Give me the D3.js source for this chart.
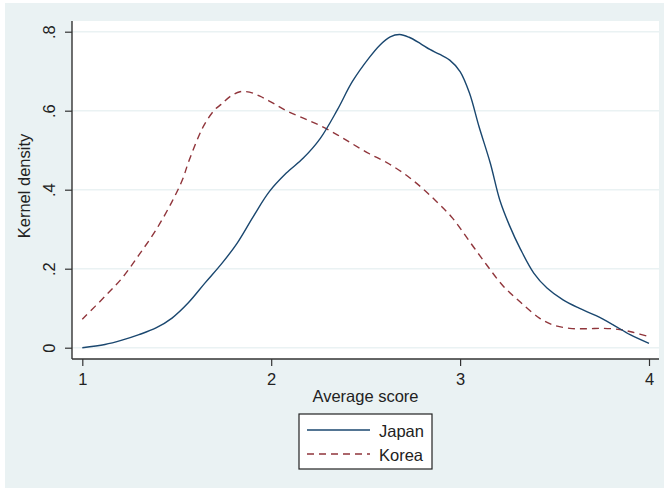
<!DOCTYPE html>
<html><head><meta charset="utf-8">
<script src="https://cdn.jsdelivr.net/npm/d3@7"></script>
<style>body{margin:0;background:#fff}svg{display:block}text{font-family:"Liberation Sans",Arial,sans-serif;fill:#222}</style>
</head><body><svg id="c" width="669" height="491"></svg>
<script>
const japanX = [1.0,1.12,1.21,1.30,1.39,1.475,1.56,1.65,1.74,1.82,1.905,1.99,2.08,2.17,2.26,2.35,2.43,2.52,2.575,2.63,2.68,2.73,2.79,2.84,2.89,2.945,3.0,3.05,3.10,3.16,3.21,3.26,3.32,3.39,3.46,3.545,3.63,3.72,3.81,3.90,4.0];
const japanY = [0.000,0.008,0.019,0.033,0.050,0.075,0.113,0.164,0.214,0.265,0.332,0.395,0.442,0.480,0.530,0.602,0.674,0.735,0.766,0.787,0.793,0.786,0.770,0.755,0.743,0.728,0.699,0.644,0.560,0.467,0.374,0.311,0.249,0.189,0.151,0.121,0.100,0.081,0.058,0.033,0.011];
const koreaX = [1.0,1.12,1.21,1.30,1.39,1.475,1.53,1.56,1.615,1.65,1.70,1.735,1.78,1.835,1.885,1.94,2.01,2.08,2.17,2.26,2.35,2.43,2.52,2.61,2.70,2.79,2.875,2.96,3.05,3.14,3.23,3.32,3.42,3.49,3.58,3.67,3.76,3.845,3.915,4.0];
const koreaY = [0.072,0.130,0.176,0.235,0.298,0.370,0.425,0.467,0.534,0.568,0.602,0.616,0.635,0.648,0.647,0.637,0.619,0.600,0.581,0.562,0.539,0.516,0.491,0.469,0.442,0.408,0.370,0.328,0.269,0.210,0.155,0.115,0.075,0.058,0.049,0.048,0.049,0.046,0.039,0.028];
const xTicks = [1,2,3,4];
const yTicks = [0,0.2,0.4,0.6,0.8];
const yTickLabels = ["0",".2",".4",".6",".8"];
const seriesNames = ["Japan","Korea"];

const svg = d3.select("#c");
const bg = "#eaf2f3";
const navy = "#1a476f", maroon = "#90353b";
svg.append("rect").attr("x",5).attr("y",3).attr("width",659).attr("height",485).attr("fill",bg);
const plotL=72, plotR=659, plotT=21, plotB=359;
svg.append("rect").attr("x",plotL).attr("y",plotT).attr("width",plotR-plotL).attr("height",plotB-plotT).attr("fill","#fff");

const x = d3.scaleLinear().domain([1,4]).range([82.3,649]);
const y = d3.scaleLinear().domain([0,0.8]).range([347.7,31.7]);

svg.append("g").selectAll("line").data(yTicks).join("line")
  .attr("x1",plotL).attr("x2",plotR).attr("y1",d=>y(d)).attr("y2",d=>y(d))
  .attr("stroke",bg).attr("stroke-width",1.6);

const fs = "16.5px";
const ya = svg.append("g").attr("transform",`translate(${plotL},0)`)
  .call(d3.axisLeft(y).tickValues(yTicks).tickFormat((d,i)=>yTickLabels[i]).tickSize(7).tickPadding(0));
ya.select(".domain").attr("stroke","#333").attr("stroke-width",1.4).attr("d",`M0,${plotT}V${plotB}`);
ya.selectAll(".tick line").attr("stroke","#333").attr("stroke-width",1.2);
ya.selectAll(".tick text").attr("font-size",fs).attr("fill","#222").attr("text-anchor","middle")
  .attr("x",null).attr("dy",null).attr("transform","translate(-17,0) rotate(-90)");

const xa = svg.append("g").attr("transform",`translate(0,${plotB})`)
  .call(d3.axisBottom(x).tickValues(xTicks).tickFormat(d3.format("d")).tickSize(7).tickPadding(0));
xa.select(".domain").attr("stroke","#333").attr("stroke-width",1.4).attr("d",`M${plotL},0H${plotR}`);
xa.selectAll(".tick line").attr("stroke","#333").attr("stroke-width",1.2);
xa.selectAll(".tick text").attr("font-size",fs).attr("fill","#222").attr("y",26).attr("dy",null);

svg.selectAll("text").attr("font-family","Liberation Sans, Arial, sans-serif");

svg.append("text").attr("x",365.5).attr("y",402).attr("text-anchor","middle").attr("font-size",fs).text("Average score");
svg.append("text").attr("transform","translate(30,186) rotate(-90)").attr("text-anchor","middle").attr("font-size",fs).text("Kernel density");

const line = d3.line().x(d=>x(d[0])).y(d=>y(d[1])).curve(d3.curveCatmullRom.alpha(0.5));
const jp = japanX.map((v,i)=>[v,japanY[i]]);
const kr = koreaX.map((v,i)=>[v,koreaY[i]]);
svg.append("path").attr("d",line(kr)).attr("fill","none").attr("stroke",maroon).attr("stroke-width",1.4).attr("stroke-dasharray","7,5");
svg.append("path").attr("d",line(jp)).attr("fill","none").attr("stroke",navy).attr("stroke-width",1.4);

const lg = svg.append("g");
lg.append("rect").attr("x",299).attr("y",414).attr("width",133).attr("height",55).attr("fill","#fff").attr("stroke","#222").attr("stroke-width",1.2);
const cols=[navy,maroon], dashes=[null,"7,5"];
seriesNames.forEach((n,i)=>{
  const yy = 430 + i*24;
  lg.append("line").attr("x1",307).attr("x2",370).attr("y1",yy).attr("y2",yy).attr("stroke",cols[i]).attr("stroke-width",1.4).attr("stroke-dasharray",dashes[i]);
  lg.append("text").attr("x",379).attr("y",yy+6.5).attr("font-size",fs).text(n);
});
</script></body></html>
